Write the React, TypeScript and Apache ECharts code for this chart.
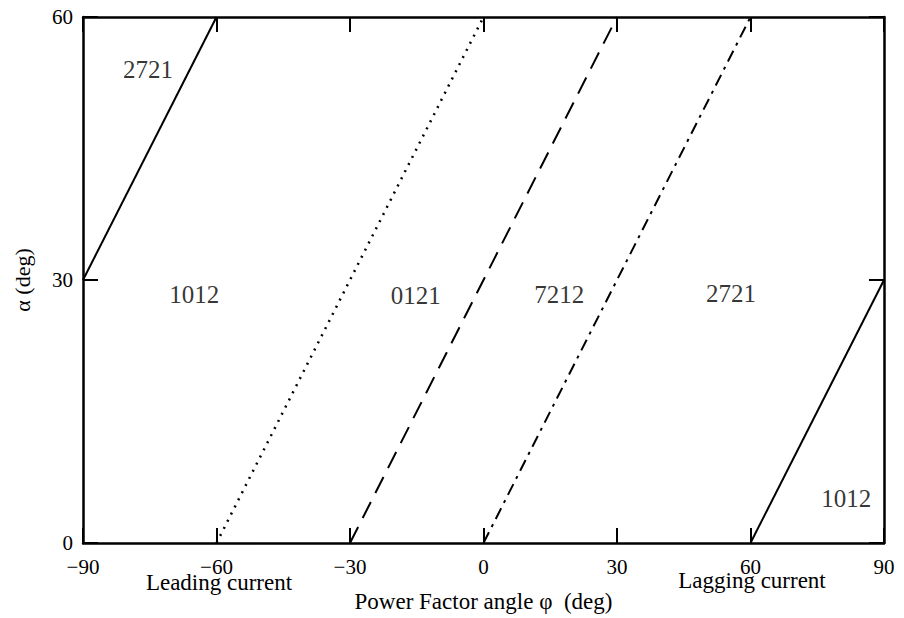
import React, { useEffect, useRef } from "react";
import * as echarts from "echarts";

const xTicks = { min: -90, max: 90, interval: 30 };
const yTicks = { min: 0, max: 60, interval: 30 };

const boundaryLeftSolid = [[-90, 30], [-60, 60]];
const boundaryDotted = [[-60, 0], [0, 60]];
const boundaryDashed = [[-30, 0], [30, 60]];
const boundaryDashDot = [[0, 0], [60, 60]];
const boundaryRightSolid = [[60, 0], [90, 30]];

const regionNames = ["2721", "1012", "0121", "7212", "2721", "1012"];
const regionX = [-75.4, -65, -15.2, 17, 55.6, 81.5];
const regionY = [54, 28.4, 28.2, 28.3, 28.5, 5.1];

const xAxisTitle = "Power Factor angle \u03c6  (deg)";
const yAxisTitle = "\u03b1 (deg)";
const leadingText = "Leading current";
const laggingText = "Lagging current";

const FONT = "'Liberation Serif', 'DejaVu Serif', serif";

export default function App() {
  const ref = useRef<HTMLDivElement>(null);

  useEffect(() => {
    document.body.style.margin = "0";
    if (!ref.current) return;
    const chart = echarts.init(ref.current, undefined, { renderer: "svg" });

    const axisLine = { show: true, onZero: false, lineStyle: { color: "#000", width: 2.5 } };
    const axisTick = { show: true, inside: true, length: 15, lineStyle: { color: "#000", width: 2 } };
    const fmt = (v: number) => String(v).replace("-", "\u2212");

    const lineSeries = (data: number[][], type: any, width = 2) => ({
      type: "line",
      data,
      xAxisIndex: 0,
      yAxisIndex: 0,
      showSymbol: false,
      symbol: "none",
      lineStyle: { color: "#000", width, type },
      silent: true,
    });

    chart.setOption({
      animation: false,
      backgroundColor: "#fff",
      grid: { left: 83, right: 20, top: 17, bottom: 73, containLabel: false },
      xAxis: [
        {
          type: "value",
          position: "bottom",
          ...xTicks,
          axisLine,
          axisTick,
          splitLine: { show: false },
          axisLabel: {
            color: "#000",
            fontFamily: FONT,
            fontSize: 21,
            margin: 13,
            formatter: fmt,
            showMinLabel: true,
            showMaxLabel: true,
          },
          name: xAxisTitle,
          nameLocation: "middle",
          nameGap: 47,
          nameTextStyle: { color: "#000", fontFamily: FONT, fontSize: 23 },
        },
        {
          type: "value",
          position: "top",
          ...xTicks,
          axisLine,
          axisTick,
          splitLine: { show: false },
          axisLabel: { show: false },
        },
      ],
      yAxis: [
        {
          type: "value",
          position: "left",
          ...yTicks,
          axisLine,
          axisTick,
          splitLine: { show: false },
          axisLabel: {
            color: "#000",
            fontFamily: FONT,
            fontSize: 21,
            margin: 10,
            formatter: fmt,
            showMinLabel: true,
            showMaxLabel: true,
          },
          name: yAxisTitle,
          nameLocation: "middle",
          nameGap: 50,
          nameRotate: 90,
          nameTextStyle: { color: "#000", fontFamily: FONT, fontSize: 22 },
        },
        {
          type: "value",
          position: "right",
          ...yTicks,
          axisLine,
          axisTick,
          splitLine: { show: false },
          axisLabel: { show: false },
        },
      ],
      series: [
        lineSeries(boundaryLeftSolid, "solid"),
        lineSeries(boundaryDotted, [2, 6], 2.5),
        lineSeries(boundaryDashed, [18, 10]),
        lineSeries(boundaryDashDot, [12, 6, 3, 6]),
        lineSeries(boundaryRightSolid, "solid"),
        {
          type: "scatter",
          xAxisIndex: 0,
          yAxisIndex: 0,
          symbolSize: 0,
          silent: true,
          data: regionNames.map((n, i) => ({ name: n, value: [regionX[i], regionY[i]] })),
          label: {
            show: true,
            position: "inside",
            formatter: (p: any) => p.name,
            color: "#000",
            fontFamily: FONT,
            fontSize: 25,
          },
        },
      ],
      graphic: [
        {
          type: "text",
          x: 219,
          y: 582,
          style: {
            text: leadingText,
            fill: "#000",
            font: `23px ${FONT}`,
            align: "center",
            verticalAlign: "middle",
          },
        },
        {
          type: "text",
          x: 752,
          y: 580,
          style: {
            text: laggingText,
            fill: "#000",
            font: `23px ${FONT}`,
            align: "center",
            verticalAlign: "middle",
          },
        },
      ],
    });

    return () => chart.dispose();
  }, []);

  return <div ref={ref} style={{ width: 904, height: 618 }} />;
}
